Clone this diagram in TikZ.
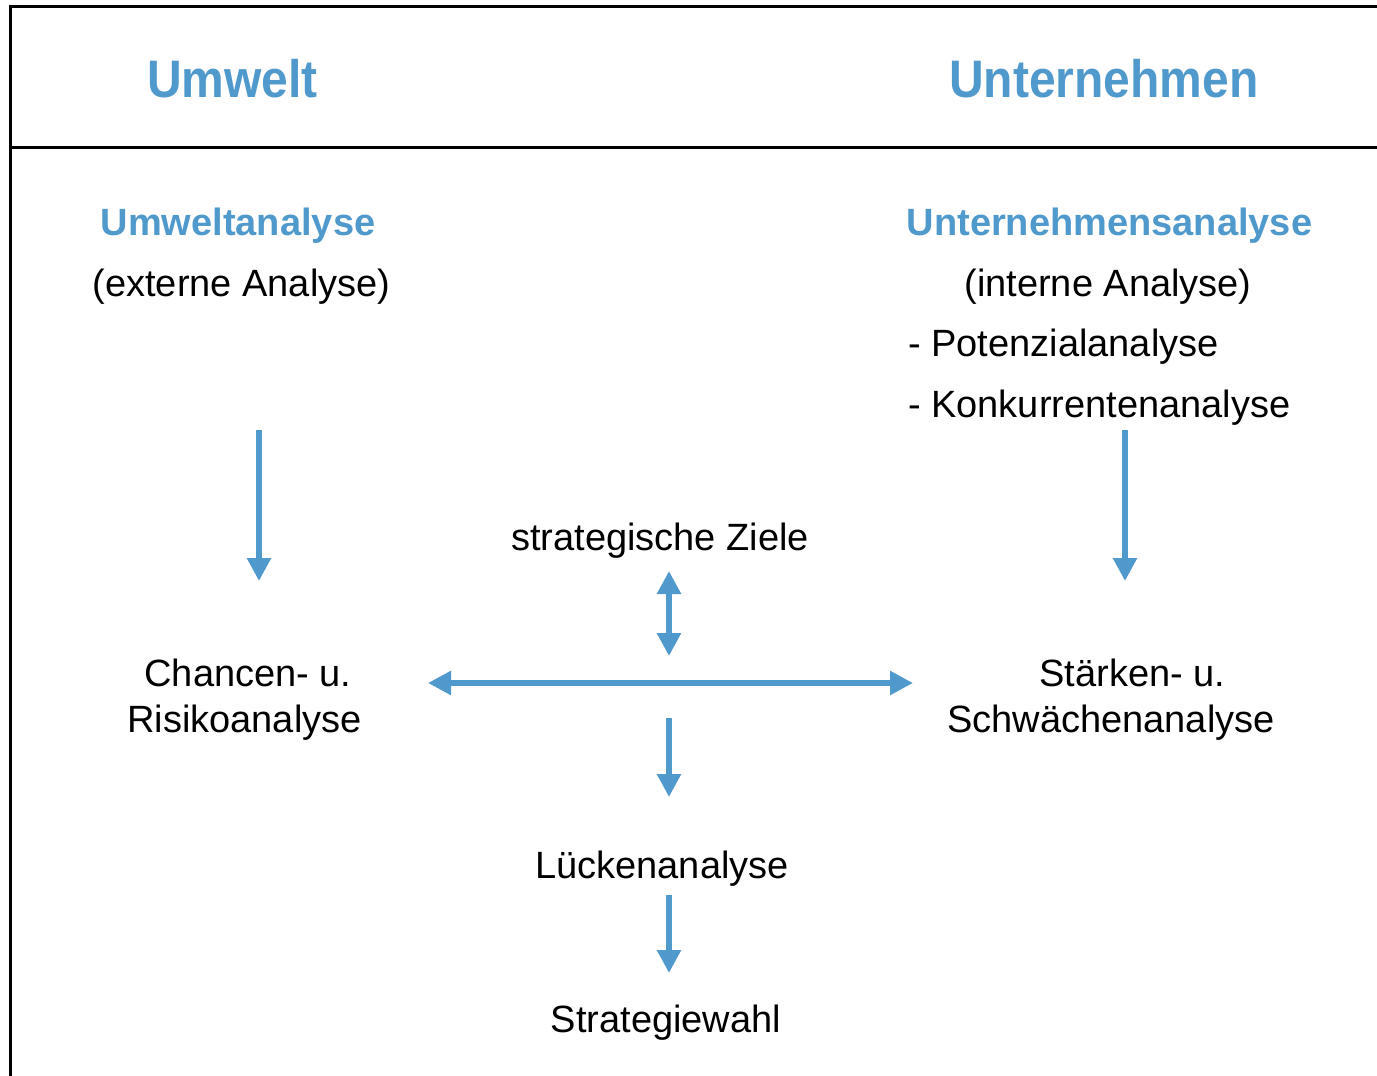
\documentclass[tikz,border=0pt]{standalone}
\usepackage{fontspec}
\usepackage{graphicx}
\setmainfont{Liberation Sans}
\usetikzlibrary{arrows.meta}
\definecolor{swotblue}{RGB}{80,153,204}
\begin{document}
\begin{tikzpicture}[x=1pt,y=-1pt,
  txt/.style={inner sep=0pt, anchor=base, font=\fontsize{38}{46}\selectfont},
  subhd/.style={txt, text=swotblue, font=\fontsize{38}{46}\selectfont\bfseries},
  ttl/.style={inner sep=0pt, anchor=base, text=swotblue, font=\fontsize{48}{56}\selectfont\bfseries},
  framelin/.style={line width=3pt, black},
  flowarr/.style={swotblue, line width=5.5pt, -{Triangle[length=23pt,width=23pt]}},
  dblarr/.style={swotblue, line width=5.5pt, {Triangle[length=23pt,width=23pt]}-{Triangle[length=23pt,width=23pt]}}]

% page extent
\useasboundingbox (0,0) rectangle (1377,1076);

% frame and header separator
\draw[framelin] (10.5,1076) -- (10.5,6.7) -- (1377,6.7);
\draw[framelin] (10.5,147.3) -- (1377,147.3);

% column titles
\node[ttl] (umwelt) at (232.5,97) {\scalebox{1}[1.1]{Umwelt}};
\node[ttl] (unternehmen) at (1104,97) {\scalebox{1}[1.1]{Unternehmen}};

% left column
\node[subhd] (ua) at (238,235) {Umweltanalyse};
\node[txt] (ext) at (241.5,296) {(externe Analyse)};
\node[txt] (chancen) at (248,686) {Chancen- u.};
\node[txt] (risiko) at (244.5,732) {Risikoanalyse};

% right column
\node[subhd] (una) at (1109.5,235) {Unternehmensanalyse};
\node[txt] (int) at (1108,296) {(interne Analyse)};
\node[txt, anchor=base west] (pot) at (908,356) {- Potenzialanalyse};
\node[txt, anchor=base west] (konk) at (908,417) {- Konkurrentenanalyse};
\node[txt] (staerken) at (1132.5,686) {Stärken- u.};
\node[txt] (schwaechen) at (1111,732) {Schwächenanalyse};

% centre column
\node[txt] (ziele) at (660,550) {strategische Ziele};
\node[txt] (luecke) at (662,878) {Lückenanalyse};
\node[txt] (wahl) at (666,1032) {Strategiewahl};

% arrow end points
\coordinate (l1) at (259,430);   \coordinate (l2) at (259,581);
\coordinate (r1) at (1125,430);  \coordinate (r2) at (1125,581);
\coordinate (z1) at (669,571);   \coordinate (z2) at (669,656);
\coordinate (h1) at (428,683);   \coordinate (h2) at (913,683);
\coordinate (d1) at (669,718);   \coordinate (d2) at (669,797);
\coordinate (s1) at (669,895);   \coordinate (s2) at (669,973);

% arrows
\draw[flowarr] (l1) -- (l2);
\draw[flowarr] (r1) -- (r2);
\draw[dblarr] (z1) -- (z2);
\draw[dblarr] (h1) -- (h2);
\draw[flowarr] (d1) -- (d2);
\draw[flowarr] (s1) -- (s2);
\end{tikzpicture}
\end{document}
